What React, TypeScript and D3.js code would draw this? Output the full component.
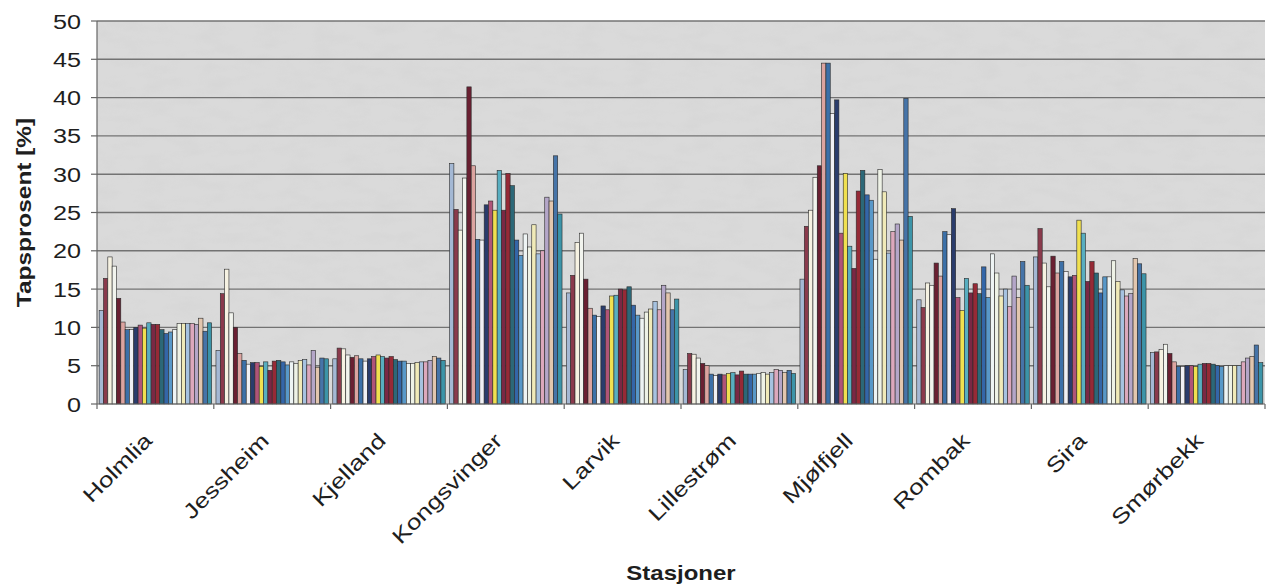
import React from 'react';
import * as d3 from 'd3';

// Stations (categories) along the x axis
const stations = [
  'Holmlia', 'Jessheim', 'Kjelland', 'Kongsvinger', 'Larvik',
  'Lillestrøm', 'Mjølfjell', 'Rombak', 'Sira', 'Smørbekk',
];

// Loss percentage per station, one value per series (26 series each)
const holmlia = [12.2, 16.4, 19.2, 18.0, 13.8, 10.7, 9.7, 9.7, 10.0, 10.3, 9.9, 10.6, 10.4, 10.4, 9.7, 9.2, 9.4, 9.7, 10.5, 10.5, 10.5, 10.5, 10.4, 11.2, 9.5, 10.6];
const jessheim = [7.0, 14.4, 17.6, 11.9, 10.0, 6.6, 5.7, 5.2, 5.4, 5.4, 4.9, 5.5, 4.4, 5.6, 5.7, 5.5, 5.1, 5.5, 5.3, 5.7, 5.8, 5.1, 7.0, 4.8, 6.0, 5.9];
const kjelland = [5.9, 7.3, 7.2, 6.4, 6.1, 6.3, 5.9, 5.6, 5.9, 6.2, 6.4, 6.2, 6.0, 6.2, 5.8, 5.6, 5.6, 5.3, 5.3, 5.4, 5.5, 5.5, 5.7, 6.2, 6.0, 5.7];
const kongsvinger = [31.4, 25.4, 22.7, 29.5, 41.4, 31.1, 21.5, 21.4, 26.0, 26.5, 25.3, 30.5, 25.3, 30.1, 28.5, 21.4, 19.4, 22.2, 20.5, 23.4, 19.6, 20.0, 27.0, 26.5, 32.4, 24.8];
const larvik = [14.5, 16.8, 21.1, 22.3, 16.3, 12.5, 11.6, 11.4, 12.8, 12.3, 14.1, 14.2, 15.0, 14.9, 15.3, 12.9, 11.6, 11.2, 12.0, 12.4, 13.4, 12.3, 15.5, 14.5, 12.3, 13.7];
const lillestrom = [4.5, 6.6, 6.5, 6.0, 5.3, 5.0, 3.9, 3.7, 3.9, 3.8, 4.0, 4.1, 3.8, 4.3, 3.9, 3.9, 3.9, 4.0, 4.1, 3.9, 4.1, 4.5, 4.4, 4.1, 4.4, 4.0];
const mjolfjell = [16.3, 23.2, 25.3, 29.6, 31.1, 44.5, 44.5, 37.9, 39.7, 22.3, 30.1, 20.6, 17.7, 27.8, 30.5, 27.3, 26.6, 18.9, 30.6, 27.7, 19.7, 22.5, 23.5, 21.4, 39.9, 24.5];
const rombak = [13.6, 12.6, 15.8, 15.5, 18.4, 16.7, 22.5, 22.1, 25.5, 13.9, 12.2, 16.4, 14.5, 15.7, 14.4, 17.9, 13.9, 19.6, 17.1, 14.1, 15.0, 12.7, 16.7, 13.9, 18.6, 15.5];
const sira = [19.2, 22.9, 18.4, 15.3, 19.3, 17.1, 18.6, 17.3, 16.6, 16.8, 24.0, 22.3, 16.0, 18.6, 17.1, 14.5, 16.6, 16.6, 18.7, 16.0, 14.9, 14.1, 14.4, 19.0, 18.3, 17.0];
const smorbekk = [6.7, 6.8, 7.1, 7.8, 6.6, 5.5, 4.9, 4.9, 5.0, 5.0, 4.9, 5.2, 5.3, 5.3, 5.2, 5.0, 4.9, 5.0, 5.0, 5.0, 5.0, 5.5, 6.0, 6.2, 7.7, 5.4];

const stationValues = [
  holmlia, jessheim, kjelland, kongsvinger, larvik,
  lillestrom, mjolfjell, rombak, sira, smorbekk,
];

// Fill colour of each series
const seriesColors = [
  '#a4b8d4', '#8a3a4c', '#f6f2e2', '#f2f4ee', '#6a2032', '#dca4a0',
  '#3c70a8', '#f0f0f4', '#2a3c6c', '#b05478', '#f0e050', '#58aec0',
  '#7a2844', '#962a36', '#2c6878', '#3466a8', '#5898c8', '#eef4f4',
  '#eef2e6', '#f0eab8', '#a6c2e0', '#dca8bc', '#b4a6c8', '#e2c6ae',
  '#4674a8', '#3c94a8',
];

const yTicks = [0, 5, 10, 15, 20, 25, 30, 35, 40, 45, 50];

const yTitle = 'Tapsprosent [%]';
const xTitle = 'Stasjoner';

const W = 1274;
const H = 587;
const plot = { left: 97, right: 1265, top: 21, bottom: 404 };
const FONT = '"Liberation Sans", Arial, sans-serif';
const INK = '#1e1e1e';

export default function App() {
  const x0 = d3.scaleBand<string>().domain(stations).range([plot.left, plot.right]).padding(0);
  const seriesIdx = d3.range(seriesColors.length).map(String);
  const x1 = d3.scaleBand<string>().domain(seriesIdx).range([0, x0.bandwidth()])
    .paddingInner(0).paddingOuter(0.5);
  const y = d3.scaleLinear().domain([0, 50]).range([plot.bottom, plot.top]);

  const boundaries = stations.map((s) => x0(s) as number).concat([plot.right]);

  return (
    <svg width={W} height={H} style={{ position: 'absolute', left: 0, top: 0, background: '#fff' }}
      fontFamily={FONT}>
      <defs>
        {/* mottled grain of the grey plot background */}
        <filter id="grain" x="0" y="0" width="100%" height="100%">
          <feTurbulence type="fractalNoise" baseFrequency="0.035 0.09" numOctaves={3} seed={4} />
          <feColorMatrix type="matrix"
            values="0 0 0 0 0.55  0 0 0 0 0.55  0 0 0 0 0.55  0 0 0 0.9 -0.38" />
        </filter>
      </defs>

      {/* plot area */}
      <rect x={plot.left} y={plot.top} width={plot.right - plot.left} height={plot.bottom - plot.top}
        fill="#dadada" />
      <rect x={plot.left} y={plot.top} width={plot.right - plot.left} height={plot.bottom - plot.top}
        filter="url(#grain)" opacity={0.35} />

      {/* horizontal gridlines */}
      {yTicks.filter((t) => t > 0).map((t) => (
        <line key={t} x1={plot.left} x2={plot.right} y1={y(t)} y2={y(t)} stroke="#737373" strokeWidth={1.4} />
      ))}

      {/* bars */}
      {stations.map((s, si) => (
        <g key={s} transform={`translate(${x0(s)},0)`}>
          {stationValues[si].map((v, k) => (
            <rect key={k} x={x1(String(k))} y={y(v)} width={x1.bandwidth()} height={plot.bottom - y(v)}
              fill={seriesColors[k]} stroke="#2a2a2a" strokeWidth={0.6} />
          ))}
        </g>
      ))}

      {/* y axis */}
      <line x1={plot.left} x2={plot.left} y1={plot.top} y2={plot.bottom} stroke="#666" strokeWidth={1.2} />
      {yTicks.map((t) => (
        <g key={t}>
          <line x1={plot.left - 6} x2={plot.left} y1={y(t)} y2={y(t)} stroke="#666" strokeWidth={1.2} />
          <text transform={`translate(81,${y(t)}) scale(1.2,1)`} textAnchor="end" dy="0.36em"
            fontSize={21} fill={INK}>{t}</text>
        </g>
      ))}

      {/* x axis */}
      <line x1={plot.left} x2={plot.right} y1={plot.bottom} y2={plot.bottom} stroke="#666" strokeWidth={1.2} />
      {boundaries.map((bx, i) => (
        <line key={i} x1={bx} x2={bx} y1={plot.bottom} y2={plot.bottom + 5} stroke="#666" strokeWidth={1.2} />
      ))}
      {stations.map((s) => {
        const cx = (x0(s) as number) + x0.bandwidth() / 2;
        return (
          <text key={s} transform={`translate(${cx - 2},${442}) rotate(-45) scale(1.25,1)`}
            textAnchor="end" fontSize={21} fill={INK}>{s}</text>
        );
      })}

      {/* axis titles */}
      <text transform={`translate(31,${(plot.top + plot.bottom) / 2}) rotate(-90) scale(1.22,1)`}
        textAnchor="middle" fontSize={20} fontWeight="bold" fill={INK}>{yTitle}</text>
      <text transform={`translate(${(plot.left + plot.right) / 2},580) scale(1.2,1)`}
        textAnchor="middle" fontSize={20} fontWeight="bold" fill={INK}>{xTitle}</text>
    </svg>
  );
}
